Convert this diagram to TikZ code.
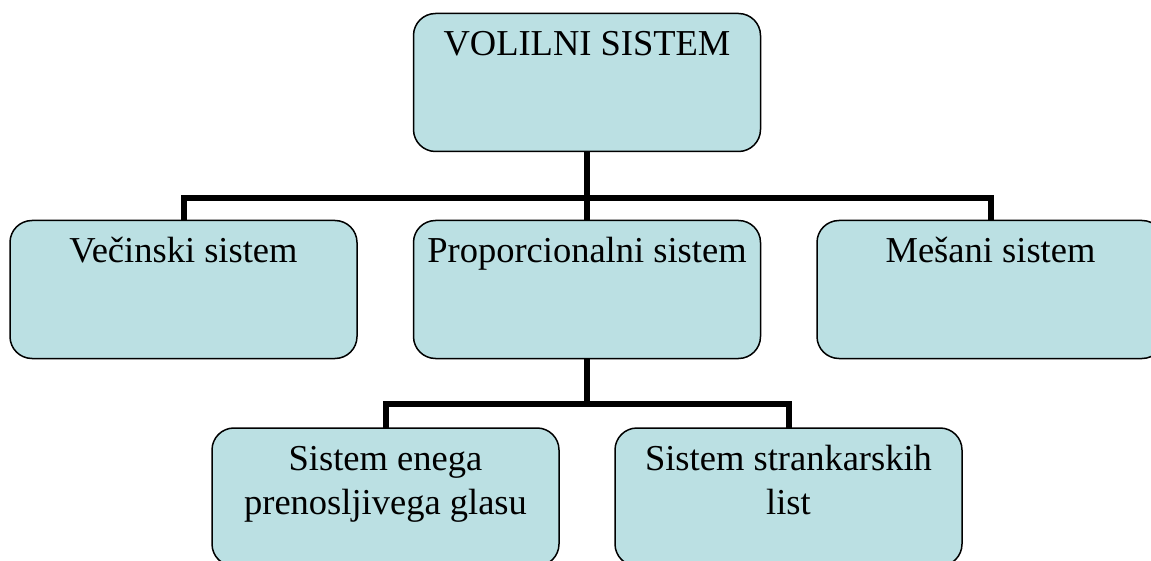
\documentclass[tikz,border=0pt]{standalone}
\usepackage{fontspec}
\setmainfont{Liberation Serif}
\definecolor{boxfill}{RGB}{187,224,227}
\newcommand{\boxtext}[1]{\parbox[c][138pt][t]{347pt}{\centering\fontsize{36.5}{44}\selectfont\rule{0pt}{42pt}#1\par}}
\tikzset{
  orgbox/.style={draw=black, fill=boxfill, line width=1.5pt, rounded corners=22pt, inner sep=0pt, outer sep=0pt, anchor=center},
  link/.style={line width=6pt, black}
}
\begin{document}
\begin{tikzpicture}[x=1pt,y=-1pt]
\useasboundingbox (0,0) rectangle (1151,561);
\node[orgbox] (top) at (587,82.5) {\boxtext{VOLILNI SISTEM}};
\node[orgbox] (left) at (183.5,289.5) {\boxtext{Večinski sistem}};
\node[orgbox] (mid) at (587,289.5) {\boxtext{Proporcionalni sistem}};
\node[orgbox] (right) at (990.5,289.5) {\boxtext{Mešani sistem}};
\node[orgbox] (bl) at (385.5,497) {\boxtext{Sistem enega\\prenosljivega glasu}};
\node[orgbox] (br) at (788.5,497) {\boxtext{Sistem strankarskih\\list}};
\coordinate (j1) at (587,198);
\coordinate (j2) at (587,404);
\draw[link] (top.south) -- (j1);
\draw[link] (j1) -| (left.north);
\draw[link] (j1) -| (right.north);
\draw[link] (j1) -- (mid.north);
\draw[link] (mid.south) -- (j2);
\draw[link] (j2) -| (bl.north);
\draw[link] (j2) -| (br.north);
\end{tikzpicture}
\end{document}
